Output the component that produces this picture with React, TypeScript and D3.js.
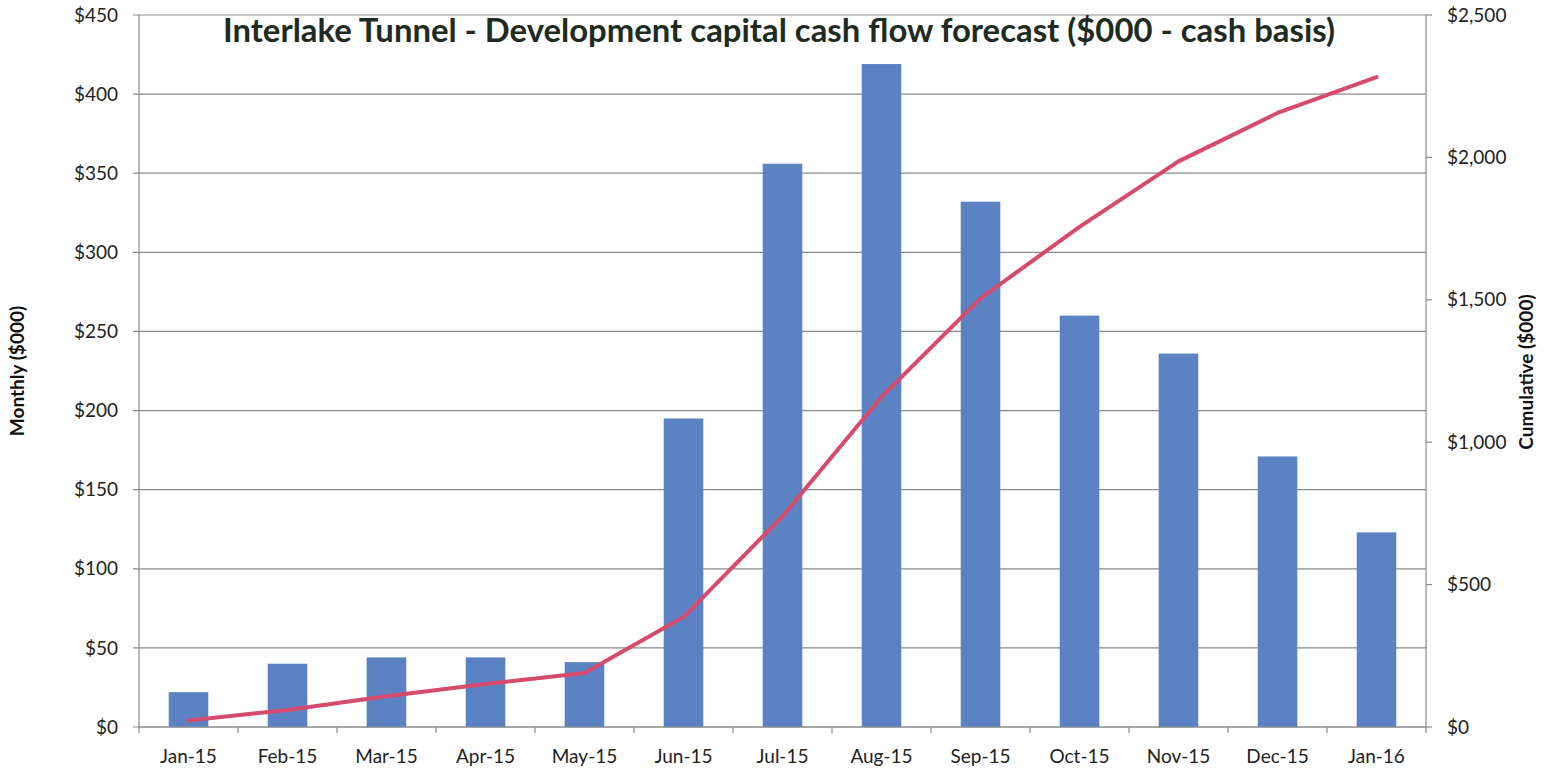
import React, { useEffect, useRef } from "react";
import * as d3 from "d3";

const months = ["Jan-15","Feb-15","Mar-15","Apr-15","May-15","Jun-15","Jul-15","Aug-15","Sep-15","Oct-15","Nov-15","Dec-15","Jan-16"];
const monthly = [22, 40, 44, 44, 41, 195, 356, 419, 332, 260, 236, 171, 123];
const cumulative = [23, 60, 108, 151, 190, 386, 740, 1159, 1505, 1756, 1986, 2156, 2282];
const leftTicks = [0, 50, 100, 150, 200, 250, 300, 350, 400, 450];
const rightTicks = [0, 500, 1000, 1500, 2000, 2500];
const title = "Interlake Tunnel - Development capital cash flow forecast ($000 - cash basis)";

const W = 1557, H = 771;
const M = { left: 139, right: 1426, top: 15, bottom: 727 };
const FONT = "Lato, 'Open Sans', sans-serif";

export default function App() {
  const ref = useRef<SVGSVGElement>(null);
  useEffect(() => {
    const svg = d3.select(ref.current);
    svg.selectAll("*").remove();
    const x = d3.scaleBand<string>().domain(months).range([M.left, M.right]).paddingInner(0.6).paddingOuter(0.3);
    const xc = d3.scaleBand<string>().domain(months).range([M.left, M.right]);
    const yL = d3.scaleLinear().domain([0, 450]).range([M.bottom, M.top]);
    const yR = d3.scaleLinear().domain([0, 2500]).range([M.bottom, M.top]);
    const grid = "#8a8a8a";

    svg.append("rect").attr("width", W).attr("height", H).attr("fill", "#fff");

    // gridlines
    svg.append("g").selectAll("line").data(leftTicks).join("line")
      .attr("x1", M.left - 6).attr("x2", M.right)
      .attr("y1", d => yL(d)).attr("y2", d => yL(d))
      .attr("stroke", grid).attr("stroke-width", 1.2);

    // left axis labels
    svg.append("g").selectAll("text").data(leftTicks).join("text")
      .attr("x", 118).attr("y", d => yL(d)).attr("dy", "0.35em")
      .attr("text-anchor", "end").attr("font-family", FONT).attr("font-size", 19).attr("fill", "#222")
      .text(d => "$" + d3.format(",")(d));

    // right axis
    svg.append("line").attr("x1", M.right).attr("x2", M.right).attr("y1", M.top).attr("y2", M.bottom)
      .attr("stroke", grid).attr("stroke-width", 1.2);
    svg.append("g").selectAll("line").data(rightTicks).join("line")
      .attr("x1", M.right).attr("x2", M.right + 6)
      .attr("y1", d => yR(d)).attr("y2", d => yR(d)).attr("stroke", grid).attr("stroke-width", 1.2);
    svg.append("g").selectAll("text").data(rightTicks).join("text")
      .attr("x", 1447).attr("y", d => yR(d)).attr("dy", "0.35em")
      .attr("text-anchor", "start").attr("font-family", FONT).attr("font-size", 19).attr("fill", "#222")
      .text(d => "$" + d3.format(",")(d));

    // left axis line
    svg.append("line").attr("x1", M.left).attr("x2", M.left).attr("y1", M.top).attr("y2", M.bottom)
      .attr("stroke", grid).attr("stroke-width", 1.2);

    // bars
    svg.append("g").selectAll("rect").data(months).join("rect")
      .attr("x", d => x(d)!).attr("width", x.bandwidth())
      .attr("y", (d, i) => yL(monthly[i])).attr("height", (d, i) => yL(0) - yL(monthly[i]))
      .attr("fill", "#5b83c3");

    // bottom axis
    svg.append("line").attr("x1", M.left).attr("x2", M.right).attr("y1", M.bottom).attr("y2", M.bottom)
      .attr("stroke", grid).attr("stroke-width", 1.2);
    const bounds = d3.range(months.length + 1).map(i => M.left + i * xc.step());
    svg.append("g").selectAll("line").data(bounds).join("line")
      .attr("x1", d => d).attr("x2", d => d).attr("y1", M.bottom).attr("y2", M.bottom + 6)
      .attr("stroke", grid).attr("stroke-width", 1.2);
    svg.append("g").selectAll("text").data(months).join("text")
      .attr("x", d => xc(d)! + xc.bandwidth() / 2).attr("y", 756).attr("dy", "0.35em")
      .attr("text-anchor", "middle").attr("font-family", FONT).attr("font-size", 19).attr("fill", "#222")
      .text(d => d);

    // cumulative line
    const line = d3.line<number>()
      .x((d, i) => xc(months[i])! + xc.bandwidth() / 2)
      .y(d => yR(d));
    svg.append("path").datum(cumulative).attr("d", line)
      .attr("fill", "none").attr("stroke", "#d64a6c").attr("stroke-width", 4)
      .attr("stroke-linejoin", "round").attr("stroke-linecap", "round");

    // title
    svg.append("text").attr("x", 779).attr("y", 42)
      .attr("text-anchor", "middle").attr("font-family", FONT).attr("font-weight", "bold")
      .attr("font-size", 32).attr("fill", "#1e2b22")
      .attr("textLength", 1112).attr("lengthAdjust", "spacingAndGlyphs")
      .text(title);

    // axis titles
    svg.append("text").attr("transform", "translate(24,371) rotate(-90)")
      .attr("text-anchor", "middle").attr("font-family", FONT).attr("font-weight", "bold")
      .attr("font-size", 19).attr("fill", "#111").text("Monthly ($000)");
    svg.append("text").attr("transform", "translate(1533,372) rotate(-90)")
      .attr("text-anchor", "middle").attr("font-family", FONT).attr("font-weight", "bold")
      .attr("font-size", 19).attr("fill", "#111").text("Cumulative ($000)");
  }, []);
  return (
    <svg ref={ref} width={W} height={H} style={{ position: "absolute", left: 0, top: 0 }} />
  );
}
